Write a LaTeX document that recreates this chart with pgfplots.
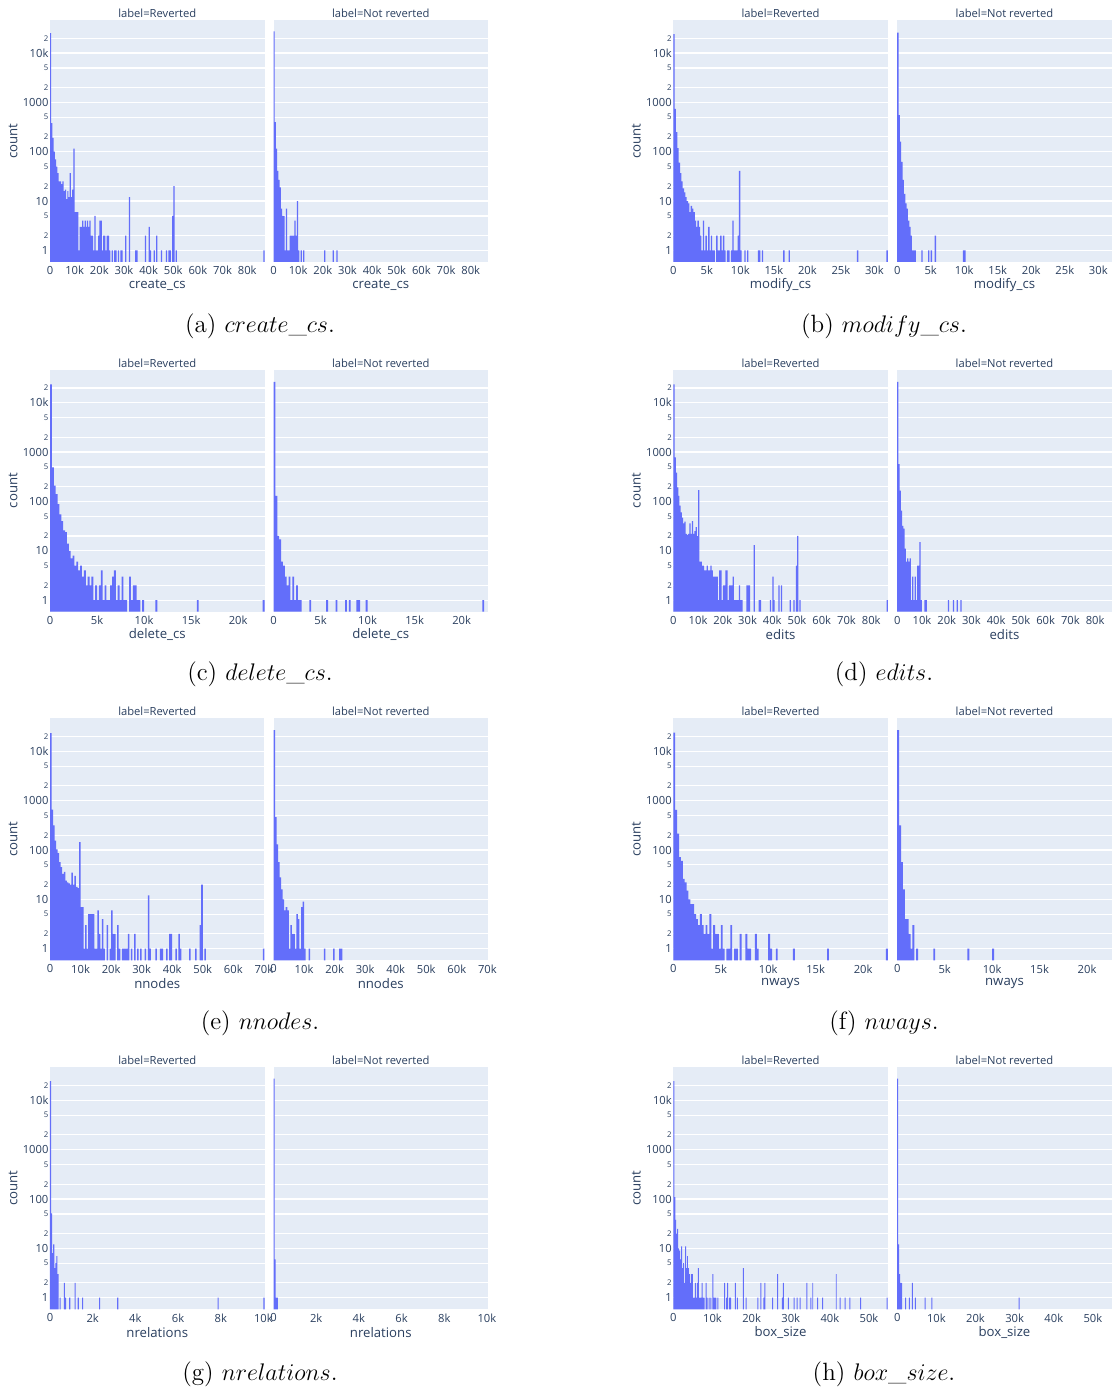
\documentclass[border=0pt]{standalone}
\usepackage{fontspec}
\usepackage{pgfplots}
\pgfplotsset{compat=1.18}
\newfontfamily\osans{Open Sans}
\definecolor{barc}{HTML}{636EFA}
\definecolor{bgc}{HTML}{E5ECF6}
\definecolor{txt}{HTML}{2A3F5F}
\newcommand\tickfont{\osans\fontsize{5.6}{6}\selectfont}
\newcommand\labfont{\osans\fontsize{6.6}{7}\selectfont}
\newcommand\mn[1]{{\fontsize{3.9}{4}\selectfont #1}}
\newcommand\Lpanel[2]{\begin{axis}[ymode=log, ymin=0.583, ymax=46800, xmin=0, ybar, log origin=infty, width=107.25pt, height=121pt, scale only axis, enlargelimits=false, scaled x ticks=false, axis background/.style={fill=bgc}, axis line style={draw=none}, major tick length=0pt, tick style={draw=none},
  ytick={1,2,5,10,20,50,100,200,500,1000,2000,5000,10000,20000},
  yticklabels={1,\mn2,\mn5,10,\mn2,\mn5,100,\mn2,\mn5,1000,\mn2,\mn5,10k,\mn2},
  ymajorgrids, grid style={white, line width=0.6pt},
  ticklabel style={font=\tickfont, text=txt},
  yticklabel style={anchor=east, inner sep=0pt, xshift=-0.6pt},
  xticklabel style={anchor=north, inner sep=0pt, yshift=-2pt},
  xlabel style={font=\labfont, text=txt, at={(axis description cs:0.5,0)}, anchor=center, yshift=-11.5pt},
  ylabel style={font=\labfont, text=txt, at={(axis description cs:-0.172,0.5)}, anchor=center},
  title style={font=\tickfont, text=txt, at={(axis description cs:0.5,1)}, anchor=center, yshift=-2.65pt, inner sep=0pt},
  ylabel={count}, title={label=Reverted}, at={#1}, #2]}
\newcommand\Rpanel[2]{\begin{axis}[ymode=log, ymin=0.583, ymax=46800, xmin=0, ybar, log origin=infty, width=107.25pt, height=121pt, scale only axis, enlargelimits=false, scaled x ticks=false, axis background/.style={fill=bgc}, axis line style={draw=none}, major tick length=0pt, tick style={draw=none},
  ytick={1,2,5,10,20,50,100,200,500,1000,2000,5000,10000,20000},
  yticklabels={},
  ymajorgrids, grid style={white, line width=0.6pt},
  ticklabel style={font=\tickfont, text=txt},
  xticklabel style={anchor=north, inner sep=0pt, yshift=-2pt},
  xlabel style={font=\labfont, text=txt, at={(axis description cs:0.5,0)}, anchor=center, yshift=-11.5pt},
  title style={font=\tickfont, text=txt, at={(axis description cs:0.5,1)}, anchor=center, yshift=-2.65pt, inner sep=0pt},
  title={label=Not reverted}, at={#1}, #2]}
\begin{document}
\begin{tikzpicture}
\useasboundingbox (0,0) rectangle (556pt,695.5pt);
% ---------- (a) create_cs
\Lpanel{(25pt,564.5pt)}{xmax=87000, xtick={0,10000,20000,30000,40000,50000,60000,70000,80000}, xticklabels={0,10k,20k,30k,40k,50k,60k,70k,80k}, xlabel={create\_cs}}
\addplot[draw=none, fill=barc, bar width=500, bar shift=250] coordinates {(0,25400)(500,380)(1000,190)(1500,100)(2000,70)(2500,50)(3000,37)(3500,25)(4000,25)(4500,22)(5000,25)(5500,16)(6000,17)(6500,11)(7000,16)(7500,12)(8000,37)(8500,12)(9000,17)(9500,115)(10000,6)(10500,6)(11000,6)(11500,1)(12000,3)(12500,3)(13000,4)(13500,3)(14000,4)(14500,3)(15000,4)(15500,3)(16000,4)(16500,2)(17000,2)(17500,1)(18000,5)(18500,1)(19000,1)(19500,2)(20000,4)(20500,4)(21000,1)(21500,2)(22000,2)(22500,1)(23000,2)(23500,2)(24000,1)(25000,1)(26000,1)(26500,1)(27500,1)(28500,1)(29000,1)(30500,2)(32000,12)(34500,1)(35000,1)(38500,2)(40000,3)(40500,1)(42000,1)(43000,2)(45000,1)(47000,1)(48000,1)(48500,1)(49500,5)(50000,20)(51000,1)(86500,1)};
\end{axis}
\Rpanel{(136.75pt,564.5pt)}{xmax=87000, xtick={0,10000,20000,30000,40000,50000,60000,70000,80000}, xticklabels={0,10k,20k,30k,40k,50k,60k,70k,80k}, xlabel={create\_cs}}
\addplot[draw=none, fill=barc, bar width=500, bar shift=250] coordinates {(0,27500)(500,400)(1000,115)(1500,41)(2000,27)(2500,19)(3000,7)(3500,5)(4000,5)(4500,1)(5000,7)(5500,1)(6000,1)(6500,2)(7000,2)(7500,2)(8000,2)(8500,4)(9000,2)(9500,10)(10000,1)(11000,1)(12000,1)(20500,1)(24000,1)(25500,1)};
\end{axis}
% ---------- (b) modify_cs
\Lpanel{(336.65pt,564.5pt)}{xmax=32000, xtick={0,5000,10000,15000,20000,25000,30000}, xticklabels={0,5k,10k,15k,20k,25k,30k}, xlabel={modify\_cs}}
\addplot[draw=none, fill=barc, bar width=200, bar shift=100] coordinates {(0,24300)(200,740)(400,250)(600,118)(800,60)(1000,37)(1200,25)(1400,18)(1600,15)(1800,12)(2000,10)(2200,9)(2400,6)(2600,8)(2800,7)(3000,6)(3200,4)(3400,3)(3600,4)(3800,3)(4000,2)(4200,1)(4400,4)(4600,1)(4800,2)(5000,1)(5200,3)(5400,1)(5600,2)(5800,1)(6000,1)(6400,2)(6600,1)(6800,1)(7000,2)(7200,1)(7400,2)(7600,1)(8000,1)(8200,1)(8600,1)(8800,4)(9000,1)(9200,1)(9400,1)(9600,2)(9800,41)(10000,1)(10600,1)(11000,1)(12600,1)(12800,1)(13200,1)(16400,1)(17200,1)(27400,1)(31800,1)};
\end{axis}
\Rpanel{(448.6pt,564.5pt)}{xmax=32000, xtick={0,5000,10000,15000,20000,25000,30000}, xticklabels={0,5k,10k,15k,20k,25k,30k}, xlabel={modify\_cs}}
\addplot[draw=none, fill=barc, bar width=200, bar shift=100] coordinates {(0,26000)(200,550)(400,160)(600,62)(800,27)(1000,14)(1200,9)(1400,7)(1600,4)(1800,3)(2000,2)(2200,1)(2400,1)(2600,1)(3600,1)(4600,1)(5000,1)(5600,2)(9800,1)(10000,1)};
\end{axis}
% ---------- (c) delete_cs
\Lpanel{(25pt,389.65pt)}{xmax=22800, xtick={0,5000,10000,15000,20000}, xticklabels={0,5k,10k,15k,20k}, xlabel={delete\_cs}}
\addplot[draw=none, fill=barc, bar width=200, bar shift=100] coordinates {(0,23500)(200,490)(400,210)(600,140)(800,88)(1000,55)(1200,40)(1400,26)(1600,24)(1800,14)(2000,10)(2200,7)(2400,8)(2600,5)(2800,6)(3000,4)(3200,5)(3400,3)(3600,4)(3800,2)(4000,3)(4200,2)(4400,3)(4600,1)(4800,2)(5000,1)(5200,2)(5400,4)(5600,1)(5800,2)(6000,1)(6200,1)(6400,2)(6600,3)(6800,4)(7000,1)(7200,2)(7400,1)(7600,3)(7800,1)(8000,1)(8400,3)(8600,1)(8800,2)(9000,2)(9200,1)(9400,1)(9800,1)(11200,1)(15600,1)(22600,1)};
\end{axis}
\Rpanel{(136.75pt,389.65pt)}{xmax=22800, xtick={0,5000,10000,15000,20000}, xticklabels={0,5k,10k,15k,20k}, xlabel={delete\_cs}}
\addplot[draw=none, fill=barc, bar width=200, bar shift=100] coordinates {(0,26500)(200,130)(400,20)(600,17)(800,6)(1000,5)(1200,3)(1400,2)(1600,3)(1800,1)(2000,3)(2200,1)(2400,2)(2600,1)(2800,1)(3800,1)(5600,1)(6600,1)(7600,1)(8000,1)(8800,1)(9000,1)(9800,1)(22200,1)};
\end{axis}
% ---------- (d) edits
\Lpanel{(336.65pt,389.65pt)}{xmax=86700, xtick={0,10000,20000,30000,40000,50000,60000,70000,80000}, xticklabels={0,10k,20k,30k,40k,50k,60k,70k,80k}, xlabel={edits}}
\addplot[draw=none, fill=barc, bar width=500, bar shift=250] coordinates {(0,23500)(500,780)(1000,385)(1500,192)(2000,130)(2500,82)(3000,60)(3500,47)(4000,36)(4500,39)(5000,22)(5500,21)(6000,22)(6500,36)(7000,22)(7500,40)(8000,22)(8500,25)(9000,30)(9500,20)(10000,170)(10500,6)(11000,6)(11500,5)(12000,5)(12500,4)(13000,4)(13500,5)(14000,4)(14500,4)(15000,5)(15500,4)(16000,3)(16500,3)(17000,3)(17500,3)(18000,1)(18500,4)(19000,4)(19500,1)(20000,2)(20500,2)(21000,4)(21500,4)(22000,1)(22500,2)(23000,2)(23500,2)(24000,3)(24500,1)(25000,1)(25500,1)(26000,1)(26500,2)(27000,1)(27500,1)(29500,2)(30000,2)(30500,2)(32500,13)(34500,1)(35000,1)(39000,1)(40000,3)(40500,1)(42500,2)(43500,2)(47000,1)(48500,1)(49500,5)(50000,20)(51000,1)(86200,1)};
\end{axis}
\Rpanel{(448.6pt,389.65pt)}{xmax=86700, xtick={0,10000,20000,30000,40000,50000,60000,70000,80000}, xticklabels={0,10k,20k,30k,40k,50k,60k,70k,80k}, xlabel={edits}}
\addplot[draw=none, fill=barc, bar width=500, bar shift=250] coordinates {(0,26500)(500,570)(1000,165)(1500,65)(2000,32)(2500,28)(3000,11)(3500,6)(4000,7)(4500,6)(5000,7)(5500,1)(6000,3)(6500,1)(7000,3)(7500,1)(8000,5)(8500,5)(9000,15)(9500,1)(11000,1)(11500,1)(20500,1)(22500,1)(24000,1)(25500,1)};
\end{axis}
% ---------- (e) nnodes
\Lpanel{(25pt,215.35pt)}{xmax=70200, xtick={0,10000,20000,30000,40000,50000,60000,70000}, xticklabels={0,10k,20k,30k,40k,50k,60k,70k}, xlabel={nnodes}}
\addplot[draw=none, fill=barc, bar width=500, bar shift=250] coordinates {(0,23400)(500,660)(1000,315)(1500,156)(2000,103)(2500,87)(3000,57)(3500,45)(4000,33)(4500,36)(5000,24)(5500,22)(6000,21)(6500,20)(7000,35)(7500,20)(8000,30)(8500,18)(9000,17)(9500,145)(10000,7)(10500,7)(11000,1)(11500,3)(12000,1)(12500,5)(13000,5)(13500,5)(14000,5)(14500,1)(15000,1)(15500,6)(16000,2)(16500,1)(17000,4)(17500,1)(18500,3)(19500,1)(20000,6)(20500,2)(21000,2)(22000,3)(22500,1)(23500,1)(24000,1)(24500,1)(25000,1)(25500,2)(26500,1)(27500,2)(28500,1)(29500,1)(31000,1)(32000,12)(32500,1)(34500,1)(36000,1)(36500,1)(38000,1)(39000,2)(39500,2)(41000,1)(42000,2)(42500,1)(45500,1)(47500,1)(49000,3)(49500,20)(50500,1)(69700,1)};
\end{axis}
\Rpanel{(136.75pt,215.35pt)}{xmax=70200, xtick={0,10000,20000,30000,40000,50000,60000,70000}, xticklabels={0,10k,20k,30k,40k,50k,60k,70k}, xlabel={nnodes}}
\addplot[draw=none, fill=barc, bar width=500, bar shift=250] coordinates {(0,27000)(500,465)(1000,130)(1500,57)(2000,28)(2500,16)(3000,10)(3500,6)(4000,7)(4500,6)(5000,1)(5500,3)(6000,2)(6500,2)(7000,1)(7500,5)(8000,4)(8500,1)(9000,7)(9500,9)(10000,1)(11500,1)(16500,1)(19500,1)(21500,1)(22000,1)};
\end{axis}
% ---------- (f) nways
\Lpanel{(336.65pt,215.35pt)}{xmax=22600, xtick={0,5000,10000,15000,20000}, xticklabels={0,5k,10k,15k,20k}, xlabel={nways}}
\addplot[draw=none, fill=barc, bar width=200, bar shift=100] coordinates {(0,24000)(200,650)(400,215)(600,72)(800,60)(1000,26)(1200,22)(1400,15)(1600,10)(1800,8)(2000,8)(2200,5)(2400,4)(2600,3)(2800,5)(3000,3)(3200,2)(3400,3)(3600,2)(3800,5)(4000,1)(4200,3)(4400,2)(4600,2)(4800,1)(5000,3)(5200,1)(5600,1)(5800,1)(6000,3)(6400,1)(6600,1)(7000,2)(7600,2)(7800,1)(8000,1)(8600,2)(8800,1)(10000,2)(10200,1)(10800,1)(12600,1)(16200,1)(22400,1)};
\end{axis}
\Rpanel{(448.6pt,215.35pt)}{xmax=22600, xtick={0,5000,10000,15000,20000}, xticklabels={0,5k,10k,15k,20k}, xlabel={nways}}
\addplot[draw=none, fill=barc, bar width=200, bar shift=100] coordinates {(0,27000)(200,315)(400,57)(600,16)(800,4)(1000,4)(1200,2)(1400,1)(1600,3)(2000,1)(3800,1)(7400,1)(10000,1)};
\end{axis}
% ---------- (g) nrelations
\Lpanel{(25pt,40.85pt)}{xmax=10050, xtick={0,2000,4000,6000,8000,10000}, xticklabels={0,2k,4k,6k,8k,10k}, xlabel={nrelations}}
\addplot[draw=none, fill=barc, bar width=50, bar shift=25] coordinates {(0,24600)(50,51)(100,8)(150,12)(200,4)(250,5)(300,7)(350,3)(450,1)(650,2)(700,1)(900,1)(1150,2)(1300,1)(1500,1)(2300,1)(3150,1)(7850,1)(10000,1)};
\end{axis}
\Rpanel{(136.75pt,40.85pt)}{xmax=10050, xtick={0,2000,4000,6000,8000,10000}, xticklabels={0,2k,4k,6k,8k,10k}, xlabel={nrelations}}
\addplot[draw=none, fill=barc, bar width=50, bar shift=25] coordinates {(0,27500)(50,6)(100,1)(150,1)};
\end{axis}
% ---------- (h) box_size
\Lpanel{(336.65pt,40.85pt)}{xmax=54800, xtick={0,10000,20000,30000,40000,50000}, xticklabels={0,10k,20k,30k,40k,50k}, xlabel={box\_size}}
\addplot[draw=none, fill=barc, bar width=250, bar shift=125] coordinates {(0,24600)(250,110)(500,38)(750,20)(1000,25)(1250,10)(1500,9)(1750,6)(2000,11)(2250,4)(2500,5)(2750,2)(3000,11)(3250,4)(3500,7)(3750,4)(4000,3)(4250,2)(4500,3)(4750,3)(5000,1)(5250,1)(5500,2)(5750,1)(6000,2)(6250,4)(6500,1)(6750,1)(7000,1)(7250,2)(7500,1)(7750,1)(8250,2)(8500,1)(9000,1)(9500,1)(10000,3)(10250,1)(10500,1)(10750,1)(11250,1)(13000,2)(13500,1)(13750,2)(14250,1)(14500,1)(15750,2)(16250,1)(17750,4)(18500,1)(21500,1)(22250,2)(23000,1)(23250,2)(25250,1)(26500,3)(27750,1)(28000,2)(29250,1)(30750,1)(31500,1)(32250,1)(34000,2)(35000,1)(35500,2)(36750,1)(38000,1)(41500,3)(42500,1)(43750,1)(45000,1)(47750,1)(54500,1)};
\end{axis}
\Rpanel{(448.6pt,40.85pt)}{xmax=54800, xtick={0,10000,20000,30000,40000,50000}, xticklabels={0,10k,20k,30k,40k,50k}, xlabel={box\_size}}
\addplot[draw=none, fill=barc, bar width=250, bar shift=125] coordinates {(0,27500)(250,12)(500,3)(750,2)(1000,2)(2000,1)(3000,1)(3750,2)(4500,1)(7000,1)(8750,1)(31000,1)};
\end{axis}
% ---------- captions
\begin{scope}[every node/.style={font=\fontsize{12.5}{15}\selectfont, inner sep=0pt}]
\node at (130pt,532.5pt) {(a) $create\_cs$.};
\node at (442pt,532.5pt) {(b) $modify\_cs$.};
\node at (130pt,358.5pt) {(c) $delete\_cs$.};
\node at (442pt,358.5pt) {(d) $edits$.};
\node at (130pt,183.8pt) {(e) $nnodes$.};
\node at (442pt,183.8pt) {(f) $nways$.};
\node at (130pt,8.5pt) {(g) $nrelations$.};
\node at (442pt,8.5pt) {(h) $box\_size$.};
\end{scope}
\end{tikzpicture}
\end{document}
